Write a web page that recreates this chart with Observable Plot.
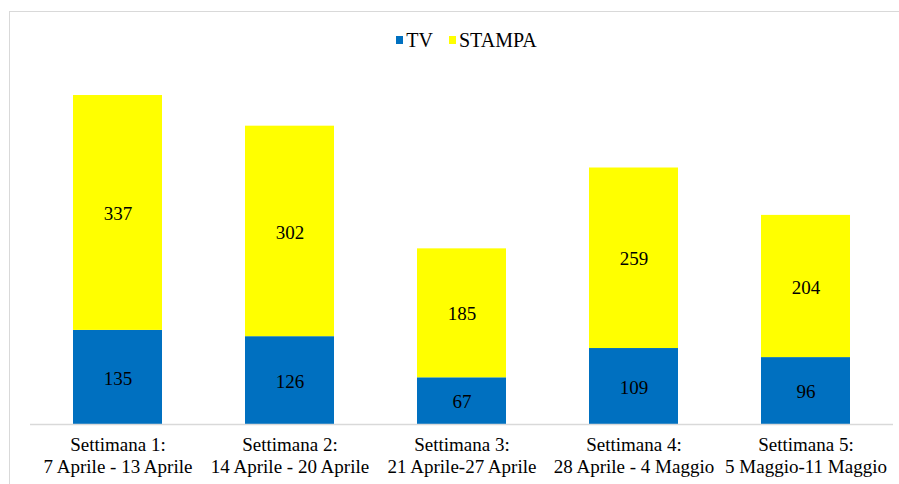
<!DOCTYPE html>
<html>
<head>
<meta charset="utf-8">
<script src="https://cdn.jsdelivr.net/npm/d3@7"></script>
<script src="https://cdn.jsdelivr.net/npm/@observablehq/plot@0.6"></script>
<style>
  html, body { margin: 0; padding: 0; background: #fff; }
  #wrap { position: relative; width: 899px; height: 484px; overflow: hidden; }
  #border { position: absolute; left: 9px; top: 11px; width: 1000px; height: 1000px; border: 1px solid #d9d9d9; box-sizing: border-box; }
  #legend { position: absolute; top: 29px; left: 17px; width: 899px; display: flex; justify-content: center; gap: 16px; font-size: 20px; line-height: 22px; color: #000; }
  #legend span.item { display: inline-flex; align-items: center; }
  #legend i { display: inline-block; width: 7px; height: 8px; margin-right: 3px; }
  #chart { position: absolute; left: 0; top: 0; }
</style>
</head>
<body>
<div id="wrap">
  <div id="border"></div>
  <div id="chart"></div>
  <div id="legend" style="font-family:'Liberation Serif'"></div>
</div>
<script>
const weeks = ["Settimana 1", "Settimana 2", "Settimana 3", "Settimana 4", "Settimana 5"];
const weekLabels = [
  "Settimana 1:\n7 Aprile - 13 Aprile",
  "Settimana 2:\n14 Aprile - 20 Aprile",
  "Settimana 3:\n21 Aprile-27 Aprile",
  "Settimana 4:\n28 Aprile - 4 Maggio",
  "Settimana 5:\n5 Maggio-11 Maggio"
];
const series = ["TV", "STAMPA"];
const colors = ["#0070C0", "#FFFF00"];
const tv = [135, 126, 67, 109, 96];
const stampa = [337, 302, 185, 259, 204];

const data = [];
weeks.forEach((w, i) => {
  data.push({week: w, series: "TV", value: tv[i]});
  data.push({week: w, series: "STAMPA", value: stampa[i]});
});
const labelOf = new Map(weeks.map((w, i) => [w, weekLabels[i]]));
const FONT = "Liberation Serif";

const chart = Plot.plot({
  width: 899,
  height: 484,
  marginTop: 75.5,
  marginBottom: 60,
  marginLeft: 30,
  marginRight: 6,
  style: {fontFamily: "'Liberation Serif'", background: "transparent", overflow: "visible"},
  x: {domain: weeks, paddingInner: 0.485, paddingOuter: 0.2425, label: null},
  y: {domain: [0, 500], axis: null},
  color: {domain: series, range: colors},
  marks: [
    Plot.barY(data, {x: "week", y: "value", fill: "series", z: "series", order: series}),
    Plot.text(data, Plot.stackY({x: "week", y: "value", z: "series", order: series, text: d => String(d.value), fontSize: 19, fontFamily: FONT, fill: "#000", dy: 1})),
    Plot.ruleY([0], {stroke: "#d9d9d9", strokeWidth: 1.5}),
    Plot.axisX({tickSize: 0, tickPadding: 11, fontSize: 19, fontFamily: FONT, lineHeight: 1.16, fill: "#000", tickFormat: w => labelOf.get(w), label: null})
  ]
});
document.getElementById("chart").appendChild(chart);

const legend = document.getElementById("legend");
series.forEach((s, i) => {
  const item = document.createElement("span");
  item.className = "item";
  const sw = document.createElement("i");
  sw.style.background = colors[i];
  item.appendChild(sw);
  item.appendChild(document.createTextNode(s));
  legend.appendChild(item);
});
</script>
</body>
</html>
